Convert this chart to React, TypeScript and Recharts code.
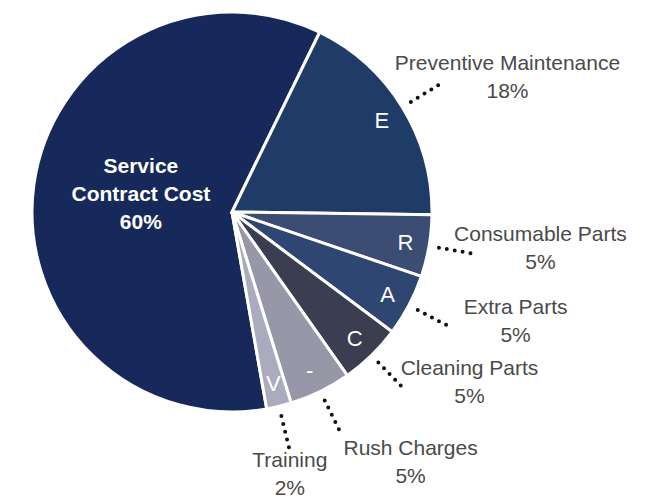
import { PieChart, Pie, Cell } from "recharts";

const categories = [
  "Service Contract Cost",
  "Preventive Maintenance",
  "Consumable Parts",
  "Extra Parts",
  "Cleaning Parts",
  "Rush Charges",
  "Training",
];
const shares = [60, 18, 5, 5, 5, 5, 2];
const sliceTags = ["", "E", "R", "A", "C", "-", "V"];
const colors = ["#16295a", "#1f3c68", "#3b4d72", "#2f4672", "#3a3e50", "#9797a8", "#ababbf"];

const data = categories.map((name, i) => ({ name, value: shares[i], tag: sliceTags[i] }));

const RAD = Math.PI / 180;
const FONT = "'Liberation Sans', Arial, sans-serif";

function renderLabel(props: any) {
  const { cx, cy, midAngle, outerRadius, index, value } = props;
  const name = categories[index];
  const ux = Math.cos(-midAngle * RAD);
  const uy = Math.sin(-midAngle * RAD);

  if (index === 0) {
    // big slice: label sits inside, bold white
    const x = cx + outerRadius * 0.46 * ux;
    const y = cy + outerRadius * 0.46 * uy;
    const words = name.split(" ");
    return (
      <text x={x} y={y} textAnchor="middle" fill="#fff" fontFamily={FONT} fontSize={21} fontWeight="bold">
        <tspan x={x} dy={-26}>{words[0]}</tspan>
        <tspan x={x} dy={28}>{words.slice(1).join(" ")}</tspan>
        <tspan x={x} dy={28}>{value}%</tspan>
      </text>
    );
  }

  const tagR = outerRadius * 0.88;
  const tx = cx + tagR * ux;
  const ty = cy + tagR * uy;
  const x1 = cx + (outerRadius + 10) * ux;
  const y1 = cy + (outerRadius + 10) * uy;
  const x2 = cx + (outerRadius + 46) * ux;
  const y2 = cy + (outerRadius + 46) * uy;

  let lx: number;
  let ly: number;
  if (Math.abs(ux) < 0.3) {
    // straight down: text under the dots
    lx = x2;
    ly = y2 + 16;
  } else if (uy > 0.85) {
    lx = x2 + 70;
    ly = y2 + 22;
  } else {
    lx = x2 + 66;
    ly = y2 - 13;
  }

  return (
    <g>
      <text x={tx} y={ty + 8} textAnchor="middle" fill="#fff" fontFamily={FONT} fontSize={22}>
        {sliceTags[index]}
      </text>
      <line x1={x1} y1={y1} x2={x2} y2={y2} stroke="#111" strokeWidth={4} strokeLinecap="round" strokeDasharray="0 8" />
      <text x={lx} y={ly} textAnchor="middle" fill="#4a4a4a" fontFamily={FONT} fontSize={21}>
        <tspan x={lx}>{name}</tspan>
        <tspan x={lx} dy={28}>{value}%</tspan>
      </text>
    </g>
  );
}

export default function App() {
  return (
    <div style={{ position: "absolute", left: 0, top: 0, background: "#fff" }}>
      <PieChart width={656} height={500}>
        <Pie
          data={data}
          dataKey="value"
          nameKey="name"
          cx={227}
          cy={207}
          outerRadius={200}
          startAngle={-80}
          endAngle={-440}
          stroke="#fff"
          strokeWidth={3}
          labelLine={false}
          label={renderLabel}
          isAnimationActive={false}
        >
          {data.map((d, i) => (
            <Cell key={d.name} fill={colors[i]} />
          ))}
        </Pie>
      </PieChart>
    </div>
  );
}
